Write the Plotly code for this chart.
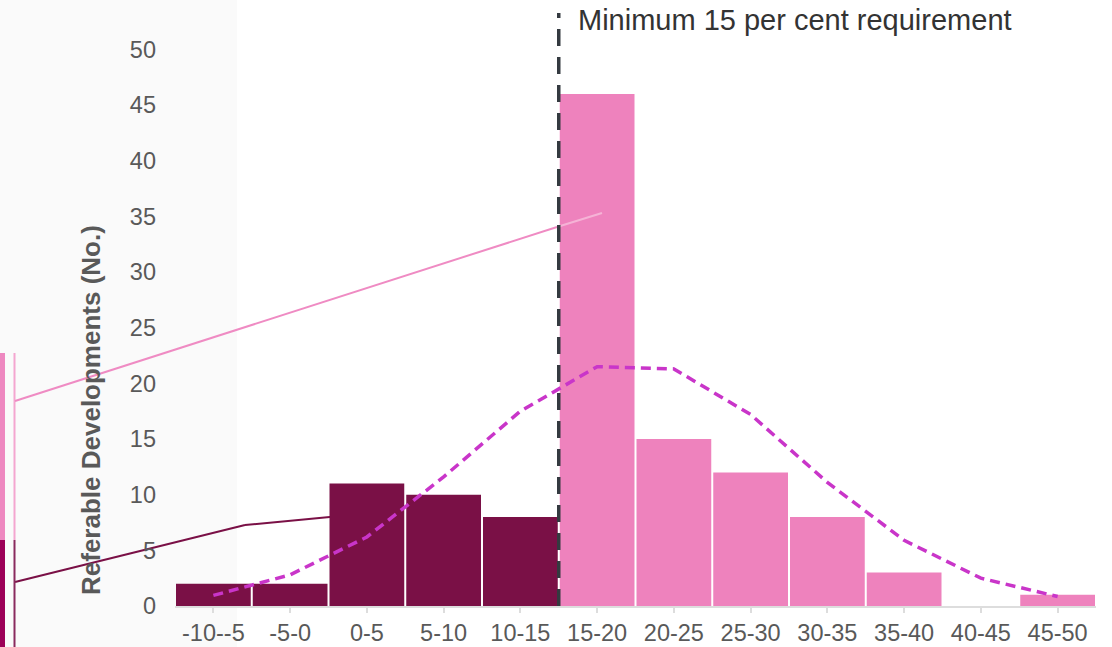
import plotly.graph_objects as go

categories = ["-10--5", "-5-0", "0-5", "5-10", "10-15", "15-20", "20-25",
              "25-30", "30-35", "35-40", "40-45", "45-50"]
counts = [2, 2, 11, 10, 8, 46, 15, 12, 8, 3, 0, 1]
normal_curve = [0.95, 2.8, 6.2, 11.6, 17.5, 21.5, 21.3, 17.2, 11.1, 5.9, 2.5, 0.85]
threshold_index = 5  # first category meeting the 15 per cent requirement

DARK = "#7a1046"
PINK = "#ee82bd"
CURVE = "#c935c9"
FONT = "Liberation Sans, Arial, sans-serif"

bar_colors = [DARK if i < threshold_index else PINK for i in range(len(categories))]

fig = go.Figure()
fig.add_trace(go.Bar(x=categories, y=counts, marker=dict(color=bar_colors, line=dict(width=0)),
                     showlegend=False))
fig.add_trace(go.Scatter(x=categories, y=normal_curve, mode="lines",
                         line=dict(color=CURVE, width=3.5, dash="10px,6px"),
                         showlegend=False))

W, H = 1112, 647
ml, mr, mt, mb = 175, 16, 16, 41
pw = W - ml - mr
ph = H - mt - mb

def px(xpix):
    return (xpix - ml) / pw

def py(ypix):
    return (H - mb - ypix) / ph

shapes = []
# left grey panel
shapes.append(dict(type="rect", xref="paper", yref="paper", x0=px(-5), x1=px(237),
                   y0=py(660), y1=py(-10), fillcolor="#fafafa", line=dict(width=0), layer="below"))
# left coloured strips
shapes.append(dict(type="rect", xref="paper", yref="paper", x0=px(0), x1=px(5),
                   y0=py(540), y1=py(353), fillcolor="#ee88c0", line=dict(width=0)))
shapes.append(dict(type="rect", xref="paper", yref="paper", x0=px(0), x1=px(5),
                   y0=py(650), y1=py(540), fillcolor="#9c0058", line=dict(width=0)))
shapes.append(dict(type="line", xref="paper", yref="paper", x0=px(14.5), x1=px(14.5),
                   y0=py(540), y1=py(353), line=dict(color="#f4a6d0", width=2)))
shapes.append(dict(type="line", xref="paper", yref="paper", x0=px(14.5), x1=px(14.5),
                   y0=py(650), y1=py(540), line=dict(color="#8a2a5e", width=2)))
# callout lines
shapes.append(dict(type="line", xref="paper", yref="paper", x0=px(15), y0=py(582),
                   x1=px(245), y1=py(525), line=dict(color=DARK, width=2), layer="below"))
shapes.append(dict(type="line", xref="paper", yref="paper", x0=px(245), y0=py(525),
                   x1=px(335), y1=py(516.5), line=dict(color=DARK, width=2), layer="below"))
shapes.append(dict(type="line", xref="paper", yref="paper", x0=px(15), y0=py(401),
                   x1=px(557), y1=py(227), line=dict(color="#ef8bc3", width=2)))
shapes.append(dict(type="line", xref="paper", yref="paper", x0=px(557), y0=py(227),
                   x1=px(602), y1=py(213), line=dict(color="#f5b3d6", width=2)))
# threshold line
shapes.append(dict(type="line", xref="x", yref="paper", x0=threshold_index - 0.5,
                   x1=threshold_index - 0.5, y0=0, y1=1.005,
                   line=dict(color="#343a40", width=3.5, dash="17px,11px")))

fig.update_layout(
    width=W, height=H,
    margin=dict(l=ml, r=mr, t=mt, b=mb),
    paper_bgcolor="white", plot_bgcolor="white",
    bargap=0.026,
    font=dict(family=FONT, color="#595959", size=23.5),
    shapes=shapes,
    xaxis=dict(showgrid=False, showline=True, linecolor="#dddddd", linewidth=2,
               ticks="outside", ticklen=5, tickcolor="#dddddd", tickwidth=2, automargin=False,
               tickfont=dict(size=23.5, color="#595959"), range=[-0.5, 11.5]),
    yaxis=dict(showgrid=False, zeroline=False, range=[0, 53], tickvals=list(range(0, 51, 5)),
               automargin=False,
               tickfont=dict(size=23.5, color="#595959"), ticklabelstandoff=18),
    annotations=[
        dict(text="Minimum 15 per cent requirement", xref="x", yref="paper",
             x=threshold_index - 0.5, xshift=17, xanchor="left", y=py(20), yanchor="middle",
             showarrow=False, font=dict(size=29, color="#333333", family=FONT)),
        dict(text="<b>Referable Developments (No.)</b>", xref="paper", yref="paper",
             x=px(91), y=py(410), xanchor="center", yanchor="middle", textangle=-90,
             showarrow=False, font=dict(size=26, color="#595959", family=FONT)),
    ],
)

fig.write_html("out.html")
